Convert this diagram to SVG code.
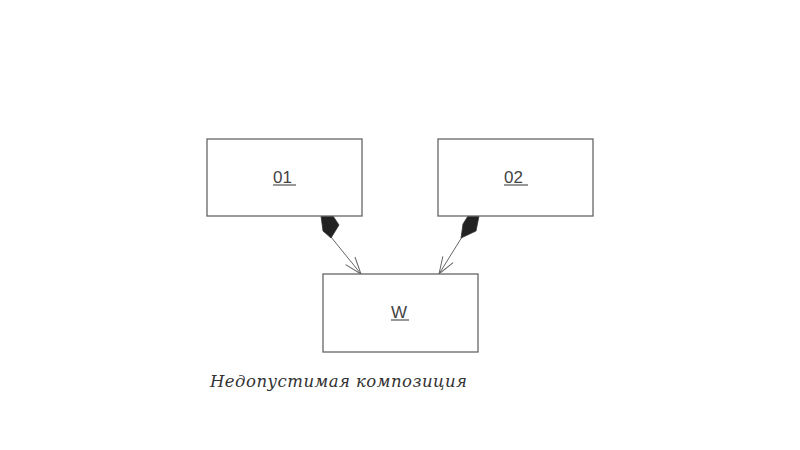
<svg xmlns="http://www.w3.org/2000/svg" width="800" height="450" viewBox="0 0 800 450">
<defs>
<style>
.box{fill:#fff;stroke:#666;stroke-width:1.3}
.lbl{font-family:"Liberation Sans",Arial,sans-serif;font-size:17px;fill:#444;text-anchor:start}
.ul{stroke:#444;stroke-width:1.1}
.conn{stroke:#666;stroke-width:1;fill:none}
.dia{fill:#222;stroke:#333;stroke-width:0.8}
.cap{font-family:"DejaVu Serif","Liberation Serif",serif;font-style:italic;font-size:16.5px;fill:#333}
</style>
<marker id="open" markerUnits="userSpaceOnUse" markerWidth="20" markerHeight="16" refX="0" refY="0" viewBox="-18 -8 20 16" orient="auto" overflow="visible">
<path d="M-17,-6 L0,0 L-17,6" fill="none" stroke="#666" stroke-width="1"/>
</marker>
</defs>
<rect width="800" height="450" fill="#fff"/>
<g id="connectors">
<line class="conn" x1="331" y1="237" x2="361" y2="274" marker-end="url(#open)"/>
<polygon class="dia" points="321,216 333,216 339,225 331,238 323,231"/>
<line class="conn" x1="462" y1="237" x2="439" y2="274" marker-end="url(#open)"/>
<polygon class="dia" points="479,216 468,216 463,224 461,238 476,231"/>
</g>
<g id="o1">
<rect class="box" x="207" y="139" width="155" height="77"/>
<text class="lbl" x="273" y="183">01</text>
<line class="ul" x1="273" y1="185" x2="296" y2="185"/>
</g>
<g id="o2">
<rect class="box" x="438" y="139" width="155" height="77"/>
<text class="lbl" x="504" y="183">02</text>
<line class="ul" x1="504" y1="185" x2="528" y2="185"/>
</g>
<g id="w">
<rect class="box" x="323" y="274" width="155" height="78"/>
<text class="lbl" x="391" y="318">W</text>
<line class="ul" x1="391" y1="320" x2="409" y2="320"/>
</g>
<g id="caption">
<text class="cap" x="210" y="387" textLength="257" lengthAdjust="spacing">Недопустимая композиция</text>
</g>
</svg>
